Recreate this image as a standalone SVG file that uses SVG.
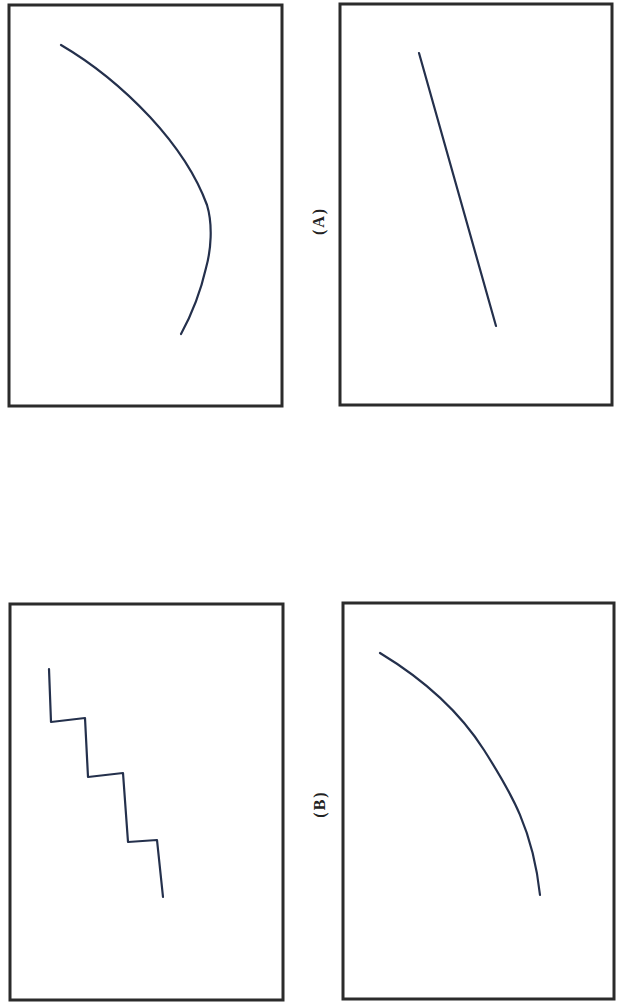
<svg xmlns="http://www.w3.org/2000/svg" width="621" height="1002" viewBox="0 0 621 1002">
<style>
.box{fill:#fff;stroke:#2b2b2b;stroke-width:3}
.ln{fill:none;stroke:#24304c;stroke-width:2.2;stroke-linecap:round;stroke-linejoin:round}
.lbl{font-family:"Liberation Serif",serif;font-weight:bold;font-size:16px;fill:#222;letter-spacing:2px}
</style>
<rect width="621" height="1002" fill="#fff"/>
<g id="panelA1">
<rect class="box" x="9" y="5" width="273" height="401"/>
<path class="ln" d="M61,45 C90,62 120,85 150,117 C175,144 196,175 207,205 C213,225 211,250 206,268 C201,290 193,312 181,334"/>
</g>
<g id="panelA2">
<rect class="box" x="340" y="4" width="272" height="401"/>
<path class="ln" d="M419,53 L496,326"/>
</g>
<g id="labelA"><text class="lbl" transform="translate(324,221) rotate(-90)" text-anchor="middle">(A)</text></g>
<g id="panelB1">
<rect class="box" x="10" y="604" width="273" height="396"/>
<path class="ln" d="M49,669 L51,722 L85,718 L88,777 L123,773 L128,842 L157,840 L163,897" stroke-width="2.6"/>
</g>
<g id="panelB2">
<rect class="box" x="343" y="603" width="271" height="396"/>
<path class="ln" d="M380,653 C418,676 456,706 484,750 S533,830 540,895"/>
</g>
<g id="labelB"><text class="lbl" transform="translate(325,804) rotate(-90)" text-anchor="middle">(B)</text></g>
</svg>
